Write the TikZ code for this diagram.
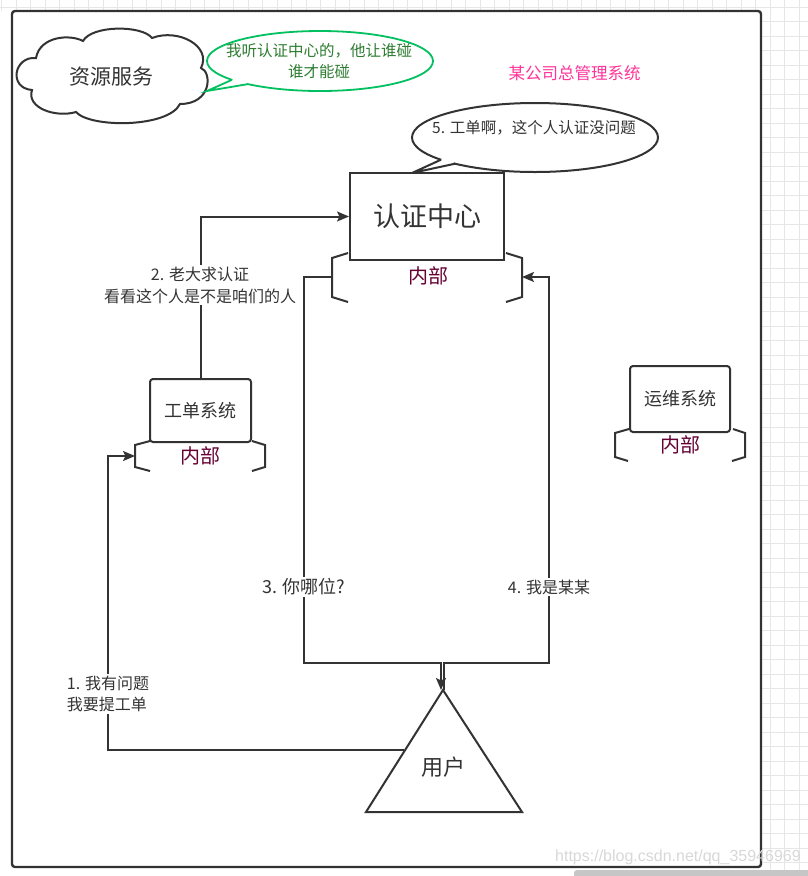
\documentclass[tikz,border=0pt]{standalone}
\usepackage{fontspec}
\setmainfont{Noto Sans CJK SC}
\newfontfamily\wmfont{Liberation Sans}
\usetikzlibrary{arrows.meta}
\definecolor{ink}{HTML}{333333}
\definecolor{innerc}{HTML}{660033}
\definecolor{gstroke}{HTML}{00C060}
\definecolor{gtext}{HTML}{2E7D32}
\definecolor{pinkc}{HTML}{FF3399}
\definecolor{gridc}{HTML}{E6E6E6}
\definecolor{wmc}{HTML}{D8D8D8}
\newcommand{\fs}[2]{\fontsize{#1}{#2}\selectfont}
\tikzset{
  ln/.style={draw=ink, line width=2pt},
  arr/.style={ln, -{Stealth[length=12pt,width=10pt,inset=2.5pt]}},
  box/.style={draw=ink, line width=2pt, fill=white, inner sep=0pt, text=ink},
  txt/.style={inner sep=0pt, text=ink},
  lbl/.style={fill=white, inner sep=2pt, text=ink, align=center},
  brk/.style={draw=ink, line width=2pt},
  innertxt/.style={text=innerc, inner sep=0pt}
}
\begin{document}
\begin{tikzpicture}[x=1pt,y=-1pt]
\useasboundingbox (0,0) rectangle (808,876);
% background grid (only outside the canvas)
\begin{scope}
  \clip (0,0) rectangle (808,11) (761,0) rectangle (808,876);
  \foreach \i in {0,...,56} { \draw[gridc, line width=0.8pt] (1.5+14.5*\i,0) -- ++(0,876); }
  \foreach \i in {0,...,61} { \draw[gridc, line width=0.8pt] (0,-7.5+14.5*\i) -- ++(808,0); }
\end{scope}
\fill[gray!45, rounded corners=3pt] (574,870) rectangle (812,884);
% outer canvas
\draw[draw=ink, line width=2.4pt, fill=white, rounded corners=3pt] (12,11) rectangle (761,867);

% cloud
\draw[ln, fill=white] (36,58) .. controls (14,56) and (8,88) .. (32,90)
  .. controls (26,108) and (56,118) .. (76,112)
  .. controls (90,128) and (168,128) .. (180,104)
  .. controls (212,104) and (212,72) .. (201,68)
  .. controls (212,46) and (178,28) .. (152,38)
  .. controls (142,25) and (92,25) .. (83,41)
  .. controls (70,34) and (40,36) .. (36,58) -- cycle;
\node[txt] (res) at (111,77) {\fs{21}{25}资源服务};

% green speech bubble
\draw[draw=gstroke, line width=1.8pt, fill=white] (320,61) ellipse [x radius=113, y radius=30];
\fill[white] (232,79.8) -- (207,91) -- (248,84.1) -- (240,76) -- cycle;
\draw[draw=gstroke, line width=1.8pt, line join=miter] (232,79.8) -- (207,91) -- (248,84.1);
\node[inner sep=0pt, text=gtext, align=center, font=\fs{15.5}{21}] (gtalk) at (319,61) {我听认证中心的，他让谁碰\\谁才能碰};

% pink title
\node[inner sep=0pt, text=pinkc] (title) at (574.5,73) {\fs{16.5}{20}某公司总管理系统};

% bubble 5
\draw[ln, fill=white] (535,137.5) ellipse [x radius=123, y radius=34.5];
\fill[white] (441,159.7) -- (412,173) -- (455,163.7) -- (448,156) -- cycle;
\draw[ln, line join=miter] (441,159.7) -- (412,173) -- (455,163.7);
\node[txt] (talk5) at (534,128) {\fs{15.5}{19}5. 工单啊，这个人认证没问题};

% auth center
\node[box, minimum width=154pt, minimum height=87pt] (ca) at (427,216.5) {\fs{27}{32}认证中心};
\draw[brk] (348,253) -- (332,258) -- (332,297) -- (348,302);
\draw[brk] (506,253) -- (522,258) -- (522,297) -- (506,302);
\node[innertxt] (caIn) at (428,276) {\fs{20}{24}内部};
\coordinate (caL) at (332,277);
\coordinate (caR) at (522,277);

% ticket system
\node[box, rounded corners=3pt, minimum width=101pt, minimum height=63pt] (gd) at (200.5,410.5) {\fs{18}{22}工单系统};
\draw[brk] (150,441) -- (135,445) -- (135,467) -- (150,471);
\draw[brk] (252,441) -- (265,445) -- (265,467) -- (252,471);
\node[innertxt] (gdIn) at (200,456) {\fs{20}{24}内部};
\coordinate (gdL) at (135,456);

% ops system
\node[box, rounded corners=3pt, minimum width=100pt, minimum height=66pt] (yw) at (680,399) {\fs{18}{22}运维系统};
\draw[brk] (629,429) -- (615,433) -- (615,457) -- (628,461);
\draw[brk] (733,429) -- (745,433) -- (745,457) -- (732,461);
\node[innertxt] (ywIn) at (680,445) {\fs{20}{24}内部};

% user triangle
\draw[ln, fill=white, line join=miter] (443,690) -- (522,812) -- (366,812) -- cycle;
\node[txt] (user) at (443,767) {\fs{22}{26}用户};
\coordinate (u1) at (404,750);
\coordinate (apx3) at (441,690);
\coordinate (apx4) at (444,690);

% bends
\coordinate (b1) at (108,456);
\coordinate (b3) at (304,663);
\coordinate (b4) at (549,663);

% connectors
\draw[arr] (u1) -| (b1) -- (gdL);
\draw[arr] (gd.north) |- (ca.west);
\draw[arr] (caL) -| (b3) -| (apx3);
\draw[arr] (apx4) |- (b4) |- (caR);

% connector labels
\node[lbl, align=left, font=\fs{16}{21}] (lab1) at (108,694) {1. 我有问题\\我要提工单};
\node[lbl, font=\fs{16}{22}] (lab2) at (200,285) {2. 老大求认证\\看看这个人是不是咱们的人};
\node[lbl, font=\fs{18}{22}] (lab3) at (304,587) {3. 你哪位?};
\node[lbl, font=\fs{16}{20}] (lab4) at (549,587) {4. 我是某某};

% watermark
\node[inner sep=0pt, text=wmc, anchor=west] (wm) at (555,857) {\wmfont\fontsize{16}{19}\selectfont https://blog.csdn.net/qq\_35946969};
\end{tikzpicture}
\end{document}
